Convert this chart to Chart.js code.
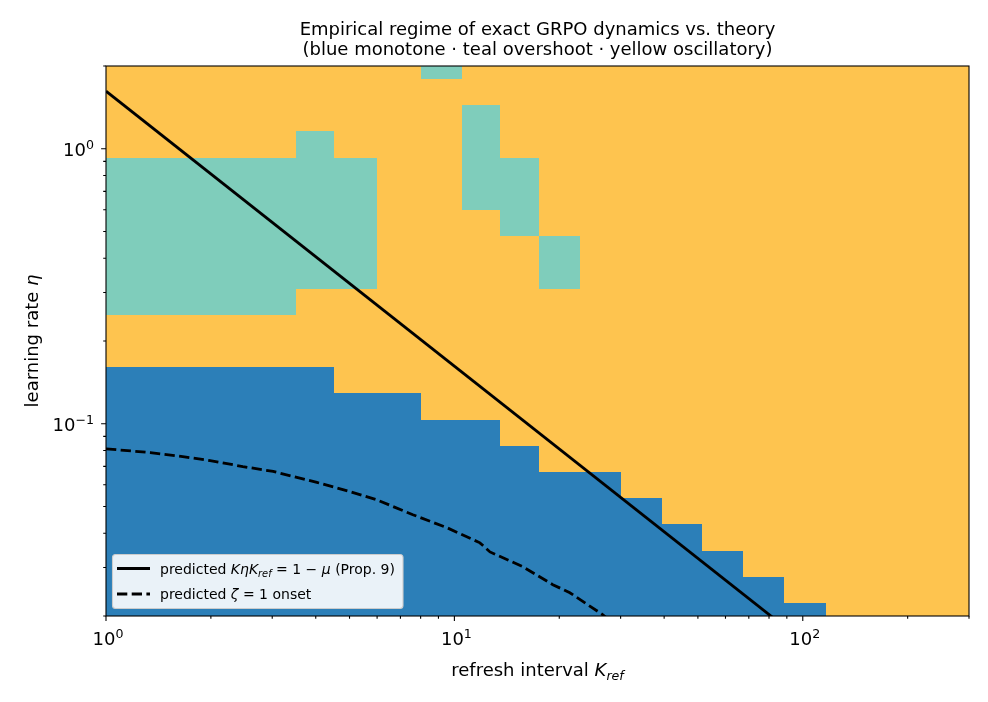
<!DOCTYPE html>
<html>
<head>
<meta charset="utf-8">
<script src="https://cdn.jsdelivr.net/npm/chart.js@4.4.1/dist/chart.umd.min.js"></script>
<style>
  html, body { margin: 0; padding: 0; background: #fff; }
  canvas { display: block; }
</style>
</head>
<body>
<canvas id="regimeChart" width="988" height="702"></canvas>
<script>
// refresh intervals simulated (one column each) and the cell edges between them
const refreshK = [1, 2, 3, 4, 5, 7, 9, 12, 15, 20, 26, 34, 45, 58, 77, 100, 133, 174, 228, 300]
const kEdges = [1, 1.5, 2.5, 3.5, 4.5, 6, 8, 10.5, 13.5, 17.5, 23, 30, 39.5, 51.5, 67.5, 88.5, 116.5, 153.5, 201, 264, 300]

// learning-rate rows (cell edges, bottom to top)
const etaEdges = [0.02, 0.02232, 0.02779, 0.0346, 0.04309, 0.05365, 0.0668, 0.08319, 0.10358, 0.12897,
    0.1606, 0.2, 0.24904, 0.3101, 0.38613, 0.48079, 0.59866, 0.74544, 0.92821, 1.15578, 1.43915, 1.79198, 2]

// observed regime per cell, top row first: B monotone, T overshoot, Y oscillatory
const regimeRows = [
    'YYYYYYTYYYYYYYYYYYYY',
    'YYYYYYYYYYYYYYYYYYYY',
    'YYYYYYYTYYYYYYYYYYYY',
    'YYYTYYYTYYYYYYYYYYYY',
    'TTTTTYYTTYYYYYYYYYYY',
    'TTTTTYYTTYYYYYYYYYYY',
    'TTTTTYYYTYYYYYYYYYYY',
    'TTTTTYYYYTYYYYYYYYYY',
    'TTTTTYYYYTYYYYYYYYYY',
    'TTTYYYYYYYYYYYYYYYYY',
    'YYYYYYYYYYYYYYYYYYYY',
    'YYYYYYYYYYYYYYYYYYYY',
    'BBBBYYYYYYYYYYYYYYYY',
    'BBBBBBYYYYYYYYYYYYYY',
    'BBBBBBBBYYYYYYYYYYYY',
    'BBBBBBBBBYYYYYYYYYYY',
    'BBBBBBBBBBBYYYYYYYYY',
    'BBBBBBBBBBBBYYYYYYYY',
    'BBBBBBBBBBBBBYYYYYYY',
    'BBBBBBBBBBBBBBYYYYYY',
    'BBBBBBBBBBBBBBBYYYYY',
    'BBBBBBBBBBBBBBBBYYYY'
]

// theory curves
const propK = [1, 300]
const propEta = [1.62, 0.0054]
const zetaK = [1, 1.34, 1.66, 1.99, 2.47, 3.02, 4.03, 5.01, 5.99, 7.6, 9.52, 11.84, 12.65, 15.73, 19.17, 21.45, 26.68, 28]
const zetaEta = [0.0811, 0.0786, 0.076, 0.0735, 0.0699, 0.0671, 0.0612, 0.0567, 0.0529, 0.0467, 0.0419, 0.0369, 0.0342, 0.0302, 0.026, 0.0243, 0.0202, 0.0192]

// ticks
const xTickVals = [1, 2, 3, 4, 5, 6, 7, 8, 9, 10, 20, 30, 40, 50, 60, 70, 80, 90, 100, 200, 300]
const xTickLabels = { 1: '0', 10: '1', 100: '2' }
const yTickVals = [0.02, 0.03, 0.04, 0.05, 0.06, 0.07, 0.08, 0.09, 0.1, 0.2, 0.3, 0.4, 0.5, 0.6, 0.7, 0.8, 0.9, 1, 2]
const yTickLabels = { 0.1: '−1', 1: '0' }

const regimeColors = { B: '#2c7fb8', T: '#7fcdbb', Y: '#fec44f' }
const FONT = 'DejaVu Sans'
const TICK = 18

const fontOf = p => `${p.i ? 'italic ' : ''}${p.s}px "${FONT}"`

function drawRich(ctx, parts, x, y, align) {
    let total = 0
    parts.forEach(p => { ctx.font = fontOf(p); p.w = ctx.measureText(p.t).width; total += p.w })
    let cx = x
    if (align === 'center') cx = x - total / 2
    if (align === 'right') cx = x - total
    ctx.textAlign = 'left'
    ctx.textBaseline = 'alphabetic'
    parts.forEach(p => {
        ctx.font = fontOf(p)
        ctx.fillText(p.t, cx, y + (p.dy || 0))
        cx += p.w
    })
}

const powerOfTen = exp => [{ t: '10', s: TICK }, { t: exp, s: TICK * 0.7, dy: -7 }]

const isMajor = v => Math.abs(Math.log10(v) - Math.round(Math.log10(v))) < 1e-9

const regimePlugin = {
    id: 'regime',
    beforeDatasetsDraw(chart) {
        const { ctx, chartArea: a, scales: { x, y } } = chart
        ctx.save()
        ctx.beginPath()
        ctx.rect(a.left, a.top, a.right - a.left, a.bottom - a.top)
        ctx.clip()
        const nRows = etaEdges.length - 1
        regimeRows.forEach((row, r) => {
            const i = nRows - 1 - r
            const yb = Math.round(y.getPixelForValue(etaEdges[i]))
            const yt = Math.round(y.getPixelForValue(etaEdges[i + 1]))
            for (let j = 0; j < row.length; j++) {
                const x0 = Math.round(x.getPixelForValue(kEdges[j]))
                const x1 = Math.round(x.getPixelForValue(kEdges[j + 1]))
                ctx.fillStyle = regimeColors[row[j]]
                ctx.fillRect(x0, yt, x1 - x0, yb - yt)
            }
        })
        ctx.restore()
    },
    afterDatasetsDraw(chart) {
        const { ctx, chartArea: a, scales: { x, y } } = chart
        ctx.save()
        ctx.strokeStyle = '#000'
        ctx.lineWidth = 1.1
        ctx.strokeRect(a.left, a.top, a.right - a.left, a.bottom - a.top)
        ctx.beginPath()
        xTickVals.forEach(v => {
            const px = x.getPixelForValue(v)
            ctx.moveTo(px, a.bottom)
            ctx.lineTo(px, a.bottom + (isMajor(v) ? 4.9 : 2.8))
        })
        yTickVals.forEach(v => {
            const py = y.getPixelForValue(v)
            ctx.moveTo(a.left, py)
            ctx.lineTo(a.left - (isMajor(v) ? 4.9 : 2.8), py)
        })
        ctx.stroke()

        // tick labels
        ctx.fillStyle = '#000'
        Object.keys(xTickLabels).forEach(v => {
            drawRich(ctx, powerOfTen(xTickLabels[v]), x.getPixelForValue(+v) + 2, a.bottom + 29, 'center')
        })
        Object.keys(yTickLabels).forEach(v => {
            drawRich(ctx, powerOfTen(yTickLabels[v]), a.left - 12, y.getPixelForValue(+v) + 7, 'right')
        })
        ctx.restore()
    },
    afterDraw(chart) {
        const { ctx, chartArea: a } = chart
        const cx = (a.left + a.right) / 2
        ctx.save()
        ctx.fillStyle = '#000'

        // title
        drawRich(ctx, [{ t: 'Empirical regime of exact GRPO dynamics vs. theory', s: 18 }], cx, 34.5, 'center')
        drawRich(ctx, [{ t: '(blue monotone · teal overshoot · yellow oscillatory)', s: 18 }], cx, 55, 'center')

        // axis labels
        drawRich(ctx, [
            { t: 'refresh interval ', s: 18 },
            { t: 'K', s: 18, i: true },
            { t: 'ref', s: 12.6, i: true, dy: 4 }
        ], cx, 676, 'center')

        ctx.save()
        ctx.translate(38, (a.top + a.bottom) / 2)
        ctx.rotate(-Math.PI / 2)
        drawRich(ctx, [{ t: 'learning rate ', s: 18 }, { t: 'η', s: 18, i: true }], 0, 0, 'center')
        ctx.restore()

        // legend
        ctx.beginPath()
        ctx.roundRect(112.5, 554.5, 290.5, 54, 3)
        ctx.fillStyle = 'rgba(255,255,255,0.9)'
        ctx.fill()
        ctx.strokeStyle = '#cccccc'
        ctx.lineWidth = 1.1
        ctx.stroke()

        ctx.strokeStyle = '#000'
        ctx.lineWidth = 2.8
        ctx.beginPath()
        ctx.moveTo(117, 568.5)
        ctx.lineTo(150, 568.5)
        ctx.stroke()
        ctx.setLineDash([10.3, 4.4])
        ctx.beginPath()
        ctx.moveTo(117, 594)
        ctx.lineTo(150, 594)
        ctx.stroke()
        ctx.setLineDash([])

        ctx.fillStyle = '#000'
        drawRich(ctx, [
            { t: 'predicted ', s: 14 },
            { t: 'KηK', s: 14, i: true },
            { t: 'ref', s: 9.8, i: true, dy: 3 },
            { t: ' = 1 − ', s: 14 },
            { t: 'μ', s: 14, i: true },
            { t: ' (Prop. 9)', s: 14 }
        ], 160, 574, 'left')
        drawRich(ctx, [
            { t: 'predicted ', s: 14 },
            { t: 'ζ', s: 14, i: true },
            { t: ' = 1 onset', s: 14 }
        ], 160, 599, 'left')
        ctx.restore()
    }
}

const ctx = document.getElementById('regimeChart').getContext('2d')

new Chart(ctx, {
    type: 'scatter',
    data: {
        datasets: [{
            label: 'predicted KηK_ref = 1 − μ (Prop. 9)',
            data: propK.map((k, i) => ({ x: k, y: propEta[i] })),
            showLine: true,
            borderColor: '#000',
            borderWidth: 2.8,
            pointRadius: 0,
            fill: false
        }, {
            label: 'predicted ζ = 1 onset',
            data: zetaK.map((k, i) => ({ x: k, y: zetaEta[i] })),
            showLine: true,
            borderColor: '#000',
            borderWidth: 2.8,
            borderDash: [10.3, 4.4],
            pointRadius: 0,
            fill: false
        }]
    },
    options: {
        responsive: false,
        devicePixelRatio: 1,
        animation: false,
        layout: { padding: { left: 0, right: 19, top: 66, bottom: 0 } },
        scales: {
            x: {
                type: 'logarithmic',
                min: 1,
                max: 300,
                afterFit: (s) => { s.height = 86 },
                afterBuildTicks: (s) => { s.ticks = xTickVals.map(v => ({ value: v })) },
                grid: { display: false, drawTicks: false },
                border: { display: false },
                ticks: { display: false }
            },
            y: {
                type: 'logarithmic',
                min: 0.02,
                max: 2,
                afterFit: (s) => { s.width = 106 },
                afterBuildTicks: (s) => { s.ticks = yTickVals.map(v => ({ value: v })) },
                grid: { display: false, drawTicks: false },
                border: { display: false },
                ticks: { display: false }
            }
        },
        plugins: {
            legend: { display: false },
            tooltip: { enabled: false },
            title: { display: false }
        }
    },
    plugins: [regimePlugin]
})
</script>
</body>
</html>
